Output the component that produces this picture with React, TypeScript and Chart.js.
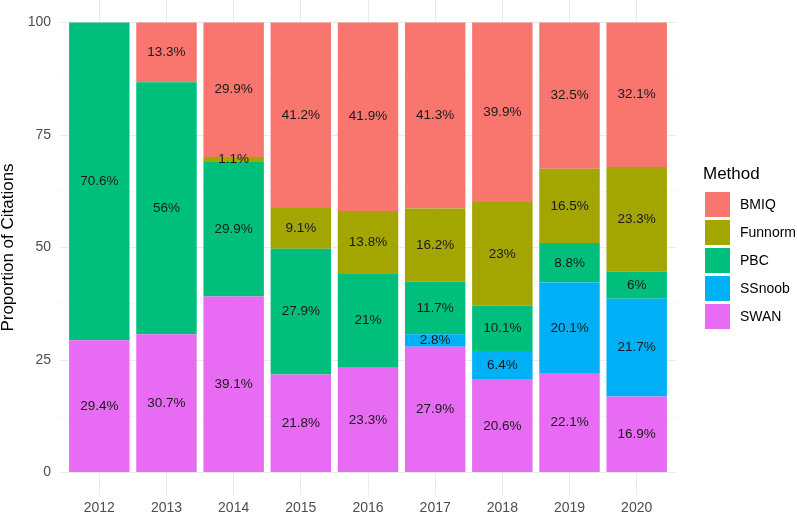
import React, { useEffect, useRef } from "react";
import { Chart, registerables } from "chart.js";

Chart.register(...registerables);

const years = [2012, 2013, 2014, 2015, 2016, 2017, 2018, 2019, 2020];
const swan = [29.4, 30.7, 39.1, 21.8, 23.3, 27.92, 20.6, 22.1, 16.9];
const ssnoob = [0, 0, 0, 0, 0, 2.82, 6.4, 20.1, 21.7];
const pbc = [70.6, 56, 29.9, 27.9, 21, 11.72, 10.1, 8.8, 6];
const funnorm = [0, 0, 1.1, 9.1, 13.8, 16.22, 23, 16.5, 23.3];
const bmiq = [0, 13.3, 29.9, 41.2, 41.9, 41.32, 39.9, 32.5, 32.1];
const yMajorTicks = [0, 25, 50, 75, 100];
const yMinorTicks = [12.5, 37.5, 62.5, 87.5];

const FONT = '"Liberation Sans", Arial, Helvetica, sans-serif';

const series = [
  { label: "SWAN", values: swan, color: "#E76BF3" },
  { label: "SSnoob", values: ssnoob, color: "#00B0F6" },
  { label: "PBC", values: pbc, color: "#00BF7D" },
  { label: "Funnorm", values: funnorm, color: "#A3A500" },
  { label: "BMIQ", values: bmiq, color: "#F8766D" },
];

const barLabelPlugin = {
  id: "barLabels",
  afterDatasetsDraw(chart: any) {
    const ctx = chart.ctx;
    ctx.save();
    ctx.font = `13.5px ${FONT}`;
    ctx.fillStyle = "#1a1a1a";
    ctx.textAlign = "center";
    ctx.textBaseline = "middle";
    chart.data.datasets.forEach((ds: any, di: number) => {
      const meta = chart.getDatasetMeta(di);
      meta.data.forEach((el: any, i: number) => {
        const v = ds.data[i].y;
        if (!v) return;
        const props = el.getProps(["x", "y", "base"], true);
        ctx.fillText(`${Math.round(v * 10) / 10}%`, props.x, (props.y + props.base) / 2);
      });
    });
    ctx.restore();
  },
};

const legendPlugin = {
  id: "ggLegend",
  afterDraw(chart: any) {
    const ctx = chart.ctx;
    ctx.save();
    ctx.textAlign = "left";
    ctx.textBaseline = "middle";
    ctx.fillStyle = "#000";
    ctx.font = `17px ${FONT}`;
    ctx.fillText("Method", 703, 174);
    const ds = chart.data.datasets.slice().reverse();
    ds.forEach((d: any, i: number) => {
      const y = 191 + i * 28;
      ctx.fillStyle = d.backgroundColor;
      ctx.fillRect(704, y, 27, 27);
      ctx.strokeStyle = "#ffffff";
      ctx.lineWidth = 1;
      ctx.strokeRect(704.5, y + 0.5, 26, 26);
      ctx.fillStyle = "#000";
      ctx.font = `14px ${FONT}`;
      ctx.fillText(d.label, 740, y + 14);
    });
    ctx.restore();
  },
};

export default function App() {
  const ref = useRef<HTMLCanvasElement | null>(null);

  useEffect(() => {
    if (!ref.current) return;
    const chart = new Chart(ref.current, {
      type: "bar",
      data: {
        datasets: series.map((s) => ({
          label: s.label,
          data: years.map((yr, i) => ({ x: yr, y: s.values[i] })),
          backgroundColor: s.color,
          borderWidth: 0,
          categoryPercentage: 0.9,
          barPercentage: 1,
        })),
      },
      options: {
        animation: false,
        responsive: false,
        maintainAspectRatio: false,
        layout: { padding: { left: 0, right: 120, top: 0, bottom: 0 } },
        plugins: {
          legend: { display: false },
          tooltip: { enabled: false },
        },
        scales: {
          x: {
            type: "linear",
            stacked: true,
            offset: false,
            min: years[0] - 0.6,
            max: years[years.length - 1] + 0.6,
            afterBuildTicks: (s: any) => {
              s.ticks = years.map((v) => ({ value: v }));
            },
            afterFit: (s: any) => {
              s.height = 20;
              s.paddingLeft = 0;
              s.paddingRight = 0;
              s.paddingTop = 0;
              s.paddingBottom = 0;
            },
            border: { display: false },
            grid: { color: "#EBEBEB", lineWidth: 1, drawTicks: false, offset: false },
            ticks: {
              padding: 5,
              color: "#4D4D4D",
              font: { family: FONT, size: 14 },
              callback: (v: any) => String(v),
              maxRotation: 0,
              autoSkip: false,
            },
          },
          y: {
            type: "linear",
            stacked: true,
            min: -5,
            max: 105,
            afterBuildTicks: (s: any) => {
              s.ticks = [...yMajorTicks, ...yMinorTicks]
                .sort((a, b) => a - b)
                .map((v) => ({ value: v }));
            },
            afterFit: (s: any) => {
              s.width = 59;
              s.paddingLeft = 0;
              s.paddingRight = 0;
              s.paddingTop = 0;
              s.paddingBottom = 0;
            },
            border: { display: false },
            grid: {
              drawTicks: false,
              color: (c: any) =>
                yMajorTicks.includes(c.tick?.value) ? "#EBEBEB" : "#F4F4F4",
              lineWidth: (c: any) => (yMajorTicks.includes(c.tick?.value) ? 1 : 0.6),
            },
            ticks: {
              padding: 8,
              color: "#4D4D4D",
              font: { family: FONT, size: 14 },
              autoSkip: false,
              callback: (v: any) => (yMajorTicks.includes(v) ? String(v) : ""),
            },
            title: {
              display: true,
              text: "Proportion of Citations",
              color: "#000",
              font: { family: FONT, size: 17, lineHeight: 1 },
              padding: { top: 0, bottom: 0 },
            },
          },
        },
      } as any,
      plugins: [barLabelPlugin, legendPlugin],
    });
    return () => chart.destroy();
  }, []);

  return (
    <div style={{ position: "fixed", left: 0, top: 0, width: 797, height: 515, background: "#fff" }}>
      <canvas ref={ref} width={797} height={515} style={{ width: 797, height: 515 }} />
    </div>
  );
}
